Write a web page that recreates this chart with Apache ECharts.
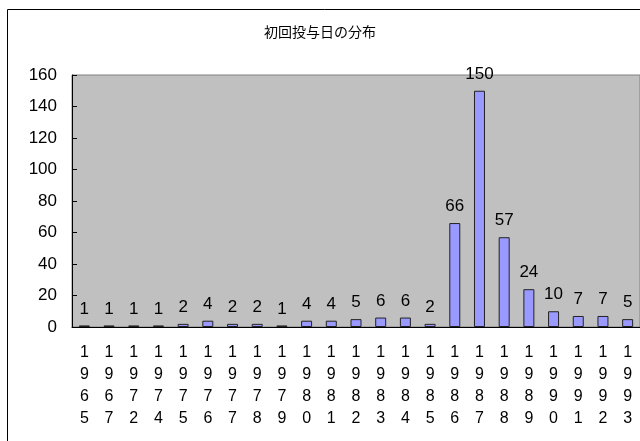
<!DOCTYPE html>
<html style="height: 100%">
<head>
    <meta charset="utf-8">
</head>
<body style="height: 100%; margin: 0; background: #fff">
<div id="container" style="width: 640px; height: 441px"></div>

<script type="text/javascript" src="https://cdn.jsdelivr.net/npm/echarts@6/dist/echarts.min.js"></script>
<script type="text/javascript">
    // data (chart is cut off at the right edge)
    var years = ['1965', '1967', '1972', '1974', '1975', '1976', '1977', '1978', '1979', '1980',
        '1981', '1982', '1983', '1984', '1985', '1986', '1987', '1988', '1989', '1990',
        '1991', '1992', '1993'];
    var counts = [1, 1, 1, 1, 2, 4, 2, 2, 1, 4, 4, 5, 6, 6, 2, 66, 150, 57, 24, 10, 7, 7, 5];
    var yTicks = [0, 20, 40, 60, 80, 100, 120, 140, 160];

    var font = '"Liberation Sans", Arial, sans-serif';

    var dom = document.getElementById("container");
    var myChart = echarts.init(dom);
    var option;

    option = {
        animation: false,
        title: {
            text: '初回投与日の分布',
            left: 'center',
            top: 20,
            textStyle: {
                fontFamily: '"Noto Sans CJK JP", sans-serif',
                fontSize: 14,
                fontWeight: 'normal',
                color: '#000'
            }
        },
        graphic: [
            {
                type: 'rect',
                shape: {x: 7.5, y: 9.5, width: 800, height: 600},
                style: {fill: 'none', stroke: '#000', lineWidth: 1},
                silent: true
            }
        ],
        grid: {
            left: 72,
            top: 75,
            bottom: 114,
            right: -9,
            show: true,
            backgroundColor: '#C0C0C0',
            borderColor: '#808080',
            borderWidth: 1
        },
        xAxis: {
            type: 'category',
            data: years,
            axisLine: {lineStyle: {color: '#000', width: 1}},
            axisTick: {inside: true, length: 5, lineStyle: {color: '#000'}},
            axisLabel: {
                interval: 0,
                margin: 15,
                color: '#000',
                fontFamily: font,
                fontSize: 16,
                lineHeight: 22,
                formatter: function (v) {
                    return v.split('').join('\n');
                }
            }
        },
        yAxis: {
            type: 'value',
            min: yTicks[0],
            max: yTicks[yTicks.length - 1],
            interval: yTicks[1] - yTicks[0],
            splitLine: {show: false},
            axisLine: {show: true, lineStyle: {color: '#000', width: 1}},
            axisTick: {show: true, inside: true, length: 5, lineStyle: {color: '#000'}},
            axisLabel: {
                margin: 15,
                color: '#000',
                fontFamily: font,
                fontSize: 17
            }
        },
        series: [
            {
                type: 'bar',
                data: counts,
                barWidth: 11,
                itemStyle: {
                    color: '#9999FF',
                    borderColor: '#222',
                    borderWidth: 1
                },
                label: {
                    show: true,
                    position: 'top',
                    distance: 8,
                    color: '#000',
                    fontFamily: font,
                    fontSize: 17
                }
            }
        ]
    };

    if (option && typeof option === 'object') {
        myChart.setOption(option);
    }
</script>
</body>
</html>
